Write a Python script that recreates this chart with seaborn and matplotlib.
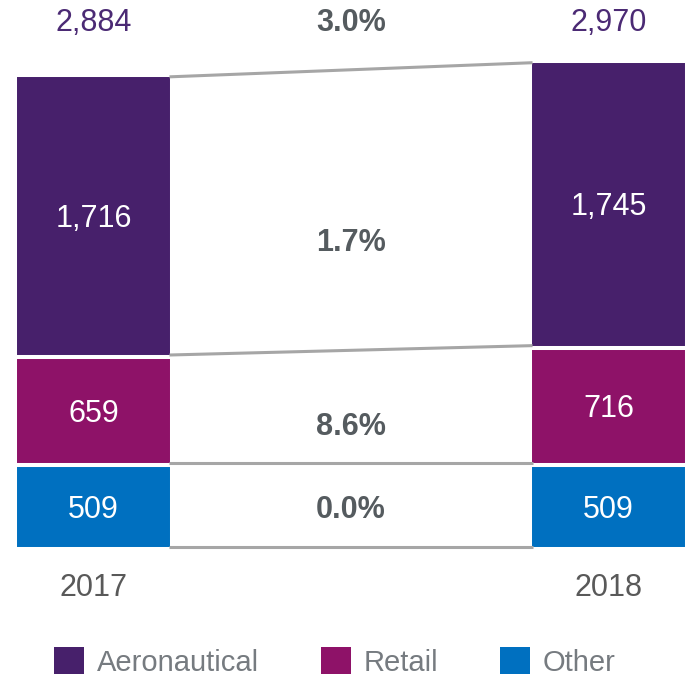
import matplotlib
matplotlib.use("Agg")
import matplotlib.pyplot as plt
import seaborn as sns
import pandas as pd
from matplotlib.patches import Patch

years = ["2017", "2018"]
aeronautical = [1716, 1745]
retail = [659, 716]
other = [509, 509]
totals = [2884, 2970]
segments = ["Aeronautical", "Retail", "Other"]
pct_total = "3.0%"
pct_segments = ["1.7%", "8.6%", "0.0%"]

colors = {"Aeronautical": "#47206B", "Retail": "#8E1268", "Other": "#0070C0"}
label_col = "#4B2A74"
pct_col = "#555B5F"
year_col = "#595959"
legend_col = "#767B80"
line_col = "#A6A6A6"

sns.set_theme(style="white")
plt.rcParams["font.family"] = ["Liberation Sans", "DejaVu Sans"]

fig = plt.figure(figsize=(6.9, 6.78), dpi=100)
ax = fig.add_axes([0, 0, 1, 1])

cum_other = other
cum_retail = [o + r for o, r in zip(other, retail)]
cum_total = [c + a for c, a in zip(cum_retail, aeronautical)]

df = pd.DataFrame({"year": years, "other": cum_other, "retail": cum_retail, "total": cum_total})
bw = 0.305
for col, seg in [("total", "Aeronautical"), ("retail", "Retail"), ("other", "Other")]:
    sns.barplot(data=df, x="year", y=col, color=colors[seg], width=bw, edgecolor="white",
                linewidth=2.9, errorbar=None, saturation=1, ax=ax)

# connector lines (drawn at visible segment edges)
half = bw / 2
off = 12
for (left, right), d in [((0, 0), off), ((cum_other[0], cum_other[1]), off),
                         ((cum_retail[0], cum_retail[1]), off),
                         ((cum_total[0], cum_total[1]), -off)]:
    ax.plot([0 + half - 0.005, 1 - half + 0.005], [left + d, right + d], color=line_col, lw=2.2,
            solid_capstyle="butt", zorder=1)

fs = 22
dy = -18
# totals
for i, t in enumerate(totals):
    ax.text(i, 3218 + dy, f"{t:,}", ha="center", va="center", fontsize=fs, color=label_col)
ax.text(0.5, 3218 + dy, pct_total, ha="center", va="center", fontsize=fs, color=pct_col,
        fontweight="bold")

# segment values
for i in range(2):
    mids = [cum_other[i] / 2, (cum_other[i] + cum_retail[i]) / 2, (cum_retail[i] + cum_total[i]) / 2]
    vals = [other[i], retail[i], aeronautical[i]]
    for m, v in zip(mids, vals):
        ax.text(i, m + dy, f"{v:,}", ha="center", va="center", fontsize=fs, color="white")

# pct changes between bars
pct_y = [1880, 760, 255]
for p, y in zip(pct_segments, pct_y):
    ax.text(0.5, y + dy, p, ha="center", va="center", fontsize=fs, color=pct_col, fontweight="bold")

# year labels
for i, y in enumerate(years):
    ax.text(i, -219 + dy, y, ha="center", va="center", fontsize=fs, color=year_col)

ax.set_xlim(-0.1816, 1.1583)
ax.set_ylim(-784.7, 3339.4)
ax.axis("off")

handles = [Patch(facecolor=colors[s], edgecolor="none", label=s) for s in segments]
fig.legend(handles=handles, loc="center", bbox_to_anchor=(0.4855, 0.0235), ncol=3,
           frameon=False, fontsize=21, labelcolor=legend_col, handlelength=1.03,
           handleheight=1.03, handletextpad=0.45, columnspacing=2.1, borderpad=0,
           borderaxespad=0)

fig.savefig("out.png", dpi=100)
